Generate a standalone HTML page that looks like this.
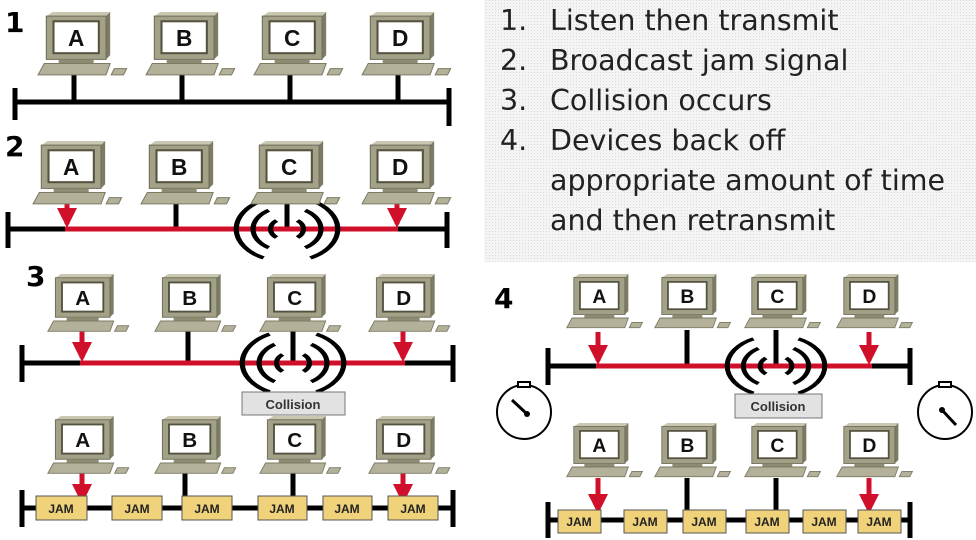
<!DOCTYPE html>
<html><head><meta charset="utf-8"><style>
html,body{margin:0;padding:0;background:#fff;width:976px;height:540px;overflow:hidden}
svg{display:block}
.lbl{font-family:"Liberation Sans",sans-serif;font-weight:bold;font-size:22px;text-anchor:middle;fill:#111}
.num{font-family:"DejaVu Sans","Liberation Sans",sans-serif;font-weight:bold;font-size:28px;fill:#000}
.li{font-family:"DejaVu Sans","Liberation Sans",sans-serif;font-size:28.5px;fill:#222}
.jam{font-family:"Liberation Sans",sans-serif;font-weight:bold;font-size:12px;text-anchor:middle;fill:#222}
.col{font-family:"Liberation Sans",sans-serif;font-weight:bold;font-size:13px;text-anchor:middle;fill:#333}
</style></head><body>
<svg width="976" height="540" viewBox="0 0 976 540" xmlns="http://www.w3.org/2000/svg">
<defs>
<pattern id="dots" width="3" height="3" patternUnits="userSpaceOnUse"><rect width="3" height="3" fill="#f4f4f4"/><rect width="1" height="1" fill="#dcdcdc"/></pattern>
<g id="pc">
  <polygon points="10,4 16,0 72,0 68,4" fill="#c9c7b0"/>
  <polygon points="68,4 72,0 72,42 68,46" fill="#7d7b64"/>
  <rect x="10" y="4" width="58" height="42" fill="#a3a188" stroke="#6f6d58" stroke-width="1"/>
  <rect x="17" y="9" width="44" height="31" fill="#fff" stroke="#55533f" stroke-width="2"/>
  <rect x="22" y="46" width="34" height="4" fill="#8d8b72"/>
  <polygon points="8,50 72,50 68,61 2,61" fill="#b3b199" stroke="#7d7b64" stroke-width="1"/>
  <polygon points="76,55 88,55 85,61 73,61" fill="#b3b199" stroke="#7d7b64" stroke-width="1"/>
</g>
<g id="ring" fill="none" stroke="#000" stroke-width="4">
  <path d="M-8,-10 A13,13 0 0 0 -8,10"/><path d="M8,-10 A13,13 0 0 1 8,10"/>
  <path d="M-14,-22 A26,26 0 0 0 -14,22"/><path d="M14,-22 A26,26 0 0 1 14,22"/>
  <path d="M-18,-34 A38,38 0 0 0 -18,34"/><path d="M18,-34 A38,38 0 0 1 18,34"/>
</g>
<marker id="ar" viewBox="0 0 10 10" refX="8" refY="5" markerWidth="4" markerHeight="4" orient="auto"><path d="M0,0 L10,5 L0,10 z" fill="#d0102a"/></marker>
</defs>

<rect x="484" y="0" width="492" height="262" fill="url(#dots)"/>
<text class="li" x="500" y="30">1.</text><text class="li" x="550" y="30">Listen then transmit</text>
<text class="li" x="500" y="70">2.</text><text class="li" x="550" y="70">Broadcast jam signal</text>
<text class="li" x="500" y="110">3.</text><text class="li" x="550" y="110">Collision occurs</text>
<text class="li" x="500" y="150">4.</text><text class="li" x="550" y="150">Devices back off</text>
<text class="li" x="550" y="190">appropriate amount of time</text>
<text class="li" x="550" y="230">and then retransmit</text>

<text class="num" x="5" y="32">1</text>
<text class="num" x="5" y="156">2</text>
<text class="num" x="26" y="286">3</text>
<text class="num" x="494" y="308">4</text>

<!-- Panel 1 -->
<g stroke="#000" stroke-width="5">
<line x1="15" y1="102" x2="449" y2="102"/><line x1="15" y1="88" x2="15" y2="120"/><line x1="449" y1="88" x2="449" y2="126"/>
<line x1="74" y1="72" x2="74" y2="102"/><line x1="182" y1="72" x2="182" y2="102"/><line x1="290" y1="72" x2="290" y2="102"/><line x1="398" y1="72" x2="398" y2="102"/>
</g>
<g transform="translate(36,12) scale(1.03)"><use href="#pc"/><text class="lbl" x="39" y="33">A</text></g>
<g transform="translate(144,12) scale(1.03)"><use href="#pc"/><text class="lbl" x="39" y="33">B</text></g>
<g transform="translate(252,12) scale(1.03)"><use href="#pc"/><text class="lbl" x="39" y="33">C</text></g>
<g transform="translate(360,12) scale(1.03)"><use href="#pc"/><text class="lbl" x="39" y="33">D</text></g>

<!-- Panel 2 -->
<g stroke="#000" stroke-width="5">
<line x1="8" y1="229" x2="447" y2="229"/><line x1="8" y1="212" x2="8" y2="248"/><line x1="447" y1="212" x2="447" y2="248"/>
<line x1="176" y1="198" x2="176" y2="229"/><line x1="287" y1="198" x2="287" y2="229"/>
</g>
<line x1="65" y1="229" x2="398" y2="229" stroke="#d0102a" stroke-width="5"/>
<line x1="67" y1="196" x2="67" y2="224" stroke="#d0102a" stroke-width="5" marker-end="url(#ar)"/>
<line x1="397" y1="196" x2="397" y2="224" stroke="#d0102a" stroke-width="5" marker-end="url(#ar)"/>
<use href="#ring" transform="translate(287,229) scale(1.3,0.85)"/>
<g transform="translate(31,141) scale(1.03)"><use href="#pc"/><text class="lbl" x="39" y="33">A</text></g>
<g transform="translate(139,141) scale(1.03)"><use href="#pc"/><text class="lbl" x="39" y="33">B</text></g>
<g transform="translate(249,141) scale(1.03)"><use href="#pc"/><text class="lbl" x="39" y="33">C</text></g>
<g transform="translate(360,141) scale(1.03)"><use href="#pc"/><text class="lbl" x="39" y="33">D</text></g>

<!-- Panel 3 top -->
<g stroke="#000" stroke-width="5">
<line x1="22" y1="363" x2="453" y2="363"/><line x1="22" y1="345" x2="22" y2="382"/><line x1="453" y1="345" x2="453" y2="382"/>
<line x1="188" y1="330" x2="188" y2="363"/><line x1="293" y1="330" x2="293" y2="363"/>
</g>
<line x1="80" y1="363" x2="405" y2="363" stroke="#d0102a" stroke-width="5"/>
<line x1="82" y1="330" x2="82" y2="358" stroke="#d0102a" stroke-width="5" marker-end="url(#ar)"/>
<line x1="403" y1="330" x2="403" y2="358" stroke="#d0102a" stroke-width="5" marker-end="url(#ar)"/>
<use href="#ring" transform="translate(293,363) scale(1.3,0.85)"/>
<rect x="242" y="392" width="103" height="23" fill="#e2e2e2" stroke="#777"/>
<text class="col" x="293" y="409">Collision</text>
<g transform="translate(46,274) scale(0.94)"><use href="#pc"/><text class="lbl" x="39" y="33">A</text></g>
<g transform="translate(153,274) scale(0.94)"><use href="#pc"/><text class="lbl" x="39" y="33">B</text></g>
<g transform="translate(258,274) scale(0.94)"><use href="#pc"/><text class="lbl" x="39" y="33">C</text></g>
<g transform="translate(367,274) scale(0.94)"><use href="#pc"/><text class="lbl" x="39" y="33">D</text></g>

<!-- Panel 3 bottom -->
<g stroke="#000" stroke-width="5">
<line x1="22" y1="508" x2="453" y2="508"/><line x1="22" y1="490" x2="22" y2="527"/><line x1="453" y1="490" x2="453" y2="527"/>
<line x1="185" y1="472" x2="185" y2="508"/><line x1="293" y1="472" x2="293" y2="508"/>
</g>
<line x1="82" y1="472" x2="82" y2="500" stroke="#d0102a" stroke-width="5" marker-end="url(#ar)"/>
<line x1="403" y1="472" x2="403" y2="500" stroke="#d0102a" stroke-width="5" marker-end="url(#ar)"/>
<g fill="#f0d27a" stroke="#555" stroke-width="1">
<rect x="36" y="496" width="51" height="24"/><rect x="112" y="496" width="50" height="24"/><rect x="182" y="496" width="50" height="24"/>
<rect x="258" y="496" width="49" height="24"/><rect x="323" y="496" width="49" height="24"/><rect x="388" y="496" width="50" height="24"/>
</g>
<text class="jam" x="61" y="513">JAM</text><text class="jam" x="137" y="513">JAM</text><text class="jam" x="207" y="513">JAM</text>
<text class="jam" x="282" y="513">JAM</text><text class="jam" x="347" y="513">JAM</text><text class="jam" x="413" y="513">JAM</text>
<g transform="translate(46,416) scale(0.94)"><use href="#pc"/><text class="lbl" x="39" y="33">A</text></g>
<g transform="translate(153,416) scale(0.94)"><use href="#pc"/><text class="lbl" x="39" y="33">B</text></g>
<g transform="translate(258,416) scale(0.94)"><use href="#pc"/><text class="lbl" x="39" y="33">C</text></g>
<g transform="translate(367,416) scale(0.94)"><use href="#pc"/><text class="lbl" x="39" y="33">D</text></g>

<!-- Panel 4 top -->
<g stroke="#000" stroke-width="5">
<line x1="548" y1="366" x2="910" y2="366" /><line x1="548" y1="348" x2="548" y2="385"/><line x1="910" y1="348" x2="910" y2="385"/>
<line x1="687" y1="330" x2="687" y2="366"/><line x1="776" y1="330" x2="776" y2="366"/>
</g>
<line x1="596" y1="366" x2="872" y2="366" stroke="#d0102a" stroke-width="5"/>
<line x1="598" y1="332" x2="598" y2="361" stroke="#d0102a" stroke-width="5" marker-end="url(#ar)"/>
<line x1="869" y1="332" x2="869" y2="361" stroke="#d0102a" stroke-width="5" marker-end="url(#ar)"/>
<use href="#ring" transform="translate(776,366) scale(1.25,0.8)"/>
<rect x="735" y="394" width="87" height="24" fill="#e2e2e2" stroke="#777"/>
<text class="col" x="778" y="411">Collision</text>
<g transform="translate(565,274) scale(0.88)"><use href="#pc"/><text class="lbl" x="39" y="33">A</text></g>
<g transform="translate(653,274) scale(0.88)"><use href="#pc"/><text class="lbl" x="39" y="33">B</text></g>
<g transform="translate(743,274) scale(0.88)"><use href="#pc"/><text class="lbl" x="39" y="33">C</text></g>
<g transform="translate(835,274) scale(0.88)"><use href="#pc"/><text class="lbl" x="39" y="33">D</text></g>

<!-- stopwatches -->
<g fill="none" stroke="#000" stroke-width="2">
<circle cx="524" cy="412" r="27" fill="#fff"/><rect x="518" y="382" width="12" height="5" fill="#fff"/>
<line x1="512" y1="400" x2="527" y2="414" stroke-width="3"/>
<circle cx="945" cy="412" r="27" fill="#fff"/><rect x="939" y="382" width="12" height="5" fill="#fff"/>
<line x1="942" y1="410" x2="956" y2="425" stroke-width="3"/>
</g>
<circle cx="527" cy="414" r="3" fill="#000"/><circle cx="942" cy="410" r="3" fill="#000"/>

<!-- Panel 4 bottom -->
<g stroke="#000" stroke-width="5">
<line x1="548" y1="520" x2="910" y2="520"/><line x1="548" y1="502" x2="548" y2="538"/><line x1="910" y1="502" x2="910" y2="538"/>
<line x1="687" y1="478" x2="687" y2="520"/><line x1="776" y1="478" x2="776" y2="520"/>
</g>
<line x1="598" y1="478" x2="598" y2="510" stroke="#d0102a" stroke-width="5" marker-end="url(#ar)"/>
<line x1="869" y1="478" x2="869" y2="510" stroke="#d0102a" stroke-width="5" marker-end="url(#ar)"/>
<g fill="#f0d27a" stroke="#555" stroke-width="1">
<rect x="558" y="510" width="43" height="23"/><rect x="624" y="510" width="43" height="23"/><rect x="683" y="510" width="43" height="23"/>
<rect x="746" y="510" width="43" height="23"/><rect x="803" y="510" width="43" height="23"/><rect x="858" y="510" width="43" height="23"/>
</g>
<text class="jam" x="579" y="526">JAM</text><text class="jam" x="645" y="526">JAM</text><text class="jam" x="704" y="526">JAM</text>
<text class="jam" x="767" y="526">JAM</text><text class="jam" x="824" y="526">JAM</text><text class="jam" x="879" y="526">JAM</text>
<g transform="translate(565,423) scale(0.88)"><use href="#pc"/><text class="lbl" x="39" y="33">A</text></g>
<g transform="translate(653,423) scale(0.88)"><use href="#pc"/><text class="lbl" x="39" y="33">B</text></g>
<g transform="translate(743,423) scale(0.88)"><use href="#pc"/><text class="lbl" x="39" y="33">C</text></g>
<g transform="translate(835,423) scale(0.88)"><use href="#pc"/><text class="lbl" x="39" y="33">D</text></g>
</svg>
</body></html>
